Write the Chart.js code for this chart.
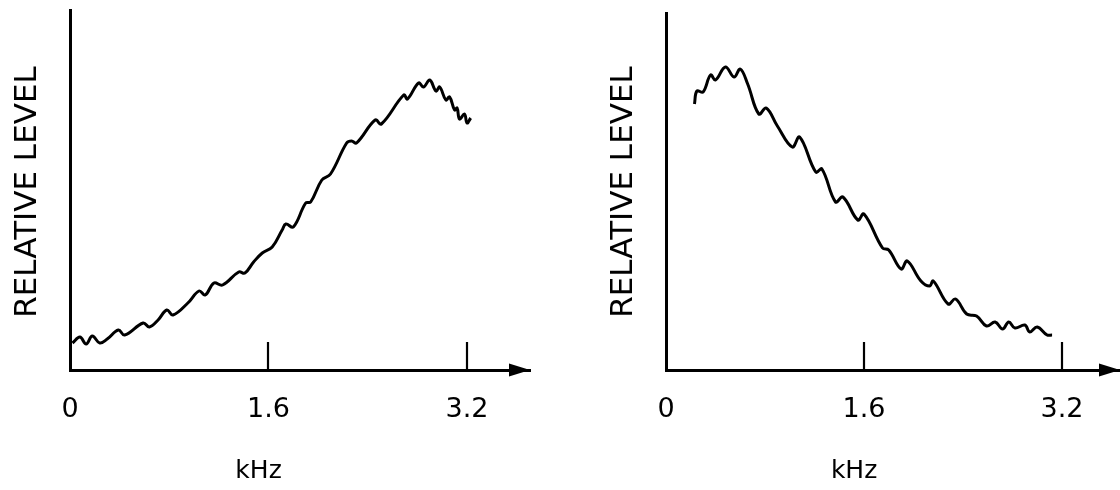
<!DOCTYPE html>
<html>
<head>
<meta charset="utf-8">
<script src="https://cdn.jsdelivr.net/npm/chart.js@4.4.1/dist/chart.umd.min.js"></script>
<style>
html, body { margin: 0; padding: 0; background: #fff; }
#wrap { position: relative; width: 1120px; height: 490px; overflow: hidden; }
canvas { position: absolute; top: 0; }
#c1 { left: 0; }
#c2 { left: 596px; }
</style>
</head>
<body>
<div id="wrap">
    <canvas id="c1" width="560" height="490"></canvas>
    <canvas id="c2" width="524" height="490"></canvas>
</div>
<script>
"use strict";
const tickValues = [0, 1.6, 3.2];
const markedTicks = [1.6, 3.2];

// left panel: level rises towards ~2.9 kHz
const leftFreq = [0.02, 0.08, 0.13, 0.18, 0.24, 0.30, 0.39, 0.44, 0.59, 0.64, 0.71, 0.78, 0.83, 0.95, 1.04, 1.09,
    1.16, 1.23, 1.36, 1.41, 1.48, 1.55, 1.63, 1.71, 1.74, 1.80, 1.90, 1.94, 2.03, 2.10, 2.23, 2.27, 2.31, 2.46, 2.51,
    2.69, 2.72, 2.81, 2.85, 2.90, 2.95, 2.98, 3.03, 3.06, 3.10, 3.12, 3.14, 3.18, 3.20, 3.23];
const leftLevel = [27, 33, 26, 34, 27, 31, 40, 35, 47, 43, 50, 60, 55, 67, 79, 75,
    87, 85, 98, 97, 108, 117, 123, 140, 146, 143, 167, 168, 190, 196, 227, 229, 227, 250, 246,
    275, 271, 287, 283, 290, 279, 283, 270, 273, 260, 262, 251, 256, 247, 252];

// right panel: level peaks near 0.5 kHz then falls
const rightFreq = [0.23, 0.25, 0.30, 0.36, 0.40, 0.48, 0.55, 0.60, 0.66, 0.75, 0.81, 0.90, 1.02, 1.08, 1.21, 1.26,
    1.37, 1.43, 1.55, 1.60, 1.75, 1.80, 1.90, 1.95, 2.06, 2.13, 2.16, 2.28, 2.34, 2.43, 2.51, 2.59, 2.66, 2.72,
    2.77, 2.82, 2.90, 2.94, 3.00, 3.08, 3.12];
const rightLevel = [266, 279, 278, 295, 290, 303, 293, 301, 286, 256, 262, 244, 223, 233, 198, 201,
    168, 173, 150, 156, 122, 120, 101, 109, 89, 84, 89, 66, 71, 56, 54, 44, 48, 41,
    48, 42, 45, 38, 43, 35, 35];

const fontFamily = "'DejaVu Sans', sans-serif";

const frame = {
    id: 'frame',
    afterDraw: (chart, args, o) =>
    {
        const { ctx, chartArea: a, scales: { x } } = chart;
        ctx.save();
        ctx.strokeStyle = ctx.fillStyle = '#000';
        ctx.lineWidth = 2.2;
        markedTicks.forEach(v =>
        {
            const px = Math.round(x.getPixelForValue(v));
            ctx.beginPath();
            ctx.moveTo(px, a.bottom);
            ctx.lineTo(px, a.bottom - 28);
            ctx.stroke();
        });
        // arrow head at the end of the frequency axis
        ctx.beginPath();
        ctx.moveTo(a.right, a.bottom);
        ctx.lineTo(a.right - 21, a.bottom - 6.5);
        ctx.lineTo(a.right - 21, a.bottom + 6.5);
        ctx.closePath();
        ctx.fill();
        ctx.textAlign = 'center';
        ctx.font = `25px ${fontFamily}`;
        ctx.textBaseline = 'middle';
        ctx.fillText('kHz', x.getPixelForValue(o.unitAt), 471);
        // vertical axis name
        ctx.font = `31px ${fontFamily}`;
        ctx.textBaseline = 'alphabetic';
        ctx.translate(36, 192);
        ctx.rotate(-Math.PI / 2);
        ctx.fillText('RELATIVE LEVEL', 0, 0);
        ctx.restore();
    }
};

const makeChart = (id, freq, level, xMax, yMax, pad) => new Chart(document.getElementById(id), {
    type: 'line',
    data: {
        datasets: [{
            data: freq.map((f, i) => ({ x: f, y: level[i] })),
            borderColor: '#000',
            borderWidth: 3,
            pointRadius: 0,
            tension: 0.4,
            fill: false
        }]
    },
    options: {
        responsive: false,
        animation: false,
        layout: { padding: pad },
        scales: {
            x: {
                type: 'linear',
                min: 0,
                max: xMax,
                afterBuildTicks: s => { s.ticks = tickValues.map(value => ({ value })); },
                afterFit: s => { s.height = 120; },
                grid: { display: false, drawTicks: false },
                border: { display: true, color: '#000', width: 3 },
                ticks: {
                    color: '#000',
                    padding: 24,
                    font: { family: fontFamily, size: 27 },
                    callback: v => v === 0 ? '0' : v.toFixed(1)
                }
            },
            y: {
                min: 0,
                max: yMax,
                afterFit: s => { s.width = 70; },
                grid: { display: false, drawTicks: false },
                border: { display: true, color: '#000', width: 3 },
                ticks: { display: false }
            }
        },
        plugins: {
            legend: { display: false },
            tooltip: { enabled: false },
            frame: { unitAt: 1.52 }
        }
    },
    plugins: [frame]
});

makeChart('c1', leftFreq, leftLevel, 3.708, 360, { top: 10, right: 30, left: 0, bottom: 0 });
makeChart('c2', rightFreq, rightLevel, 3.669, 357, { top: 13, right: 0, left: 0, bottom: 0 });
</script>
</body>
</html>
